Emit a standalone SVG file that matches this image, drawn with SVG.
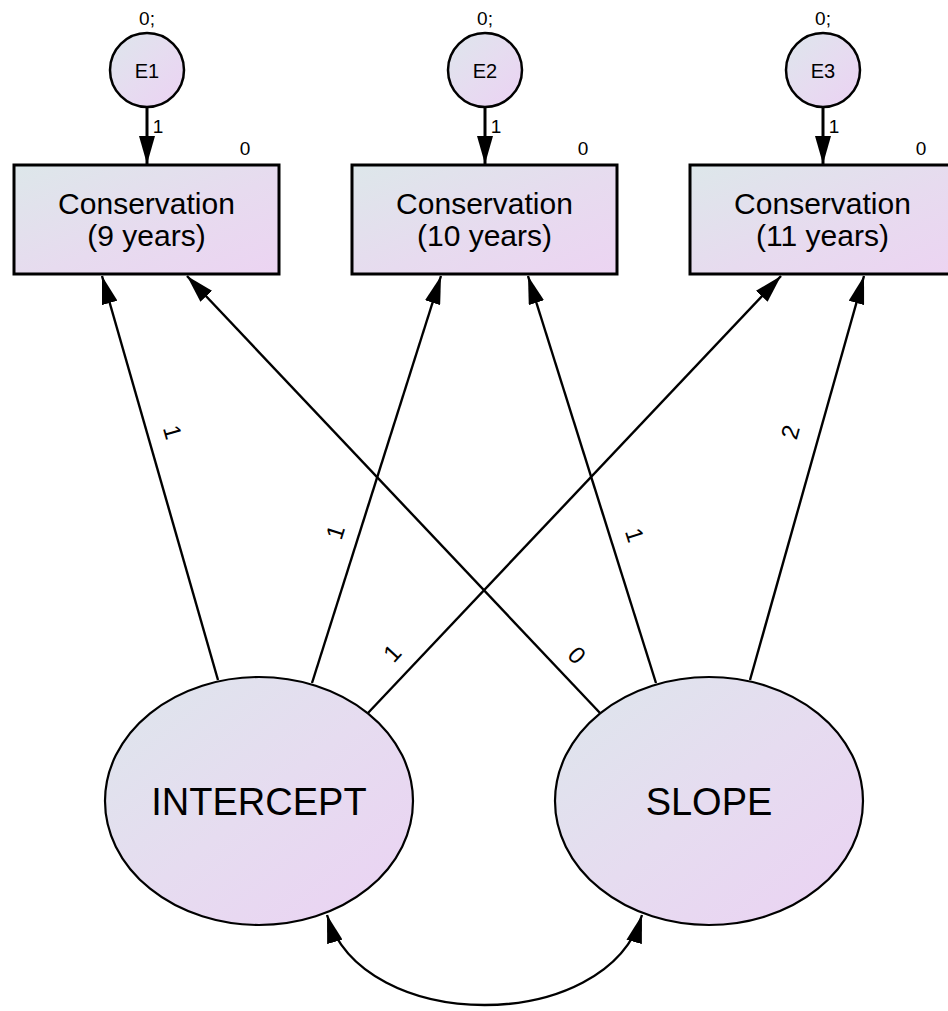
<svg xmlns="http://www.w3.org/2000/svg" width="948" height="1011" viewBox="0 0 948 1011">
<style>
text{font-family:"Liberation Sans",Arial,sans-serif;fill:#000}
.box{fill:url(#gb);stroke:#000;stroke-width:3}
.ell{fill:url(#ge);stroke:#000;stroke-width:2.2}
.err{fill:url(#ge);stroke:#000;stroke-width:2.5}
.con{fill:none;stroke:#000;stroke-width:2.4}
.econ{fill:none;stroke:#000;stroke-width:3}
.lbl{font-size:30px;text-anchor:middle}
.big{font-size:38px;text-anchor:middle}
.sm{font-size:19px;text-anchor:middle}
.pl{font-size:24px;text-anchor:middle}
</style>
<defs>
<linearGradient id="gb" x1="0" y1="0" x2="1" y2="1">
<stop offset="0" stop-color="#dde7ea"/>
<stop offset="0.55" stop-color="#e7dbef"/>
<stop offset="1" stop-color="#ecd4f2"/>
</linearGradient>
<linearGradient id="ge" x1="0" y1="0" x2="1" y2="1">
<stop offset="0" stop-color="#dde6ec"/>
<stop offset="0.5" stop-color="#e6dcf0"/>
<stop offset="1" stop-color="#ebd2f3"/>
</linearGradient>
<marker id="ah" viewBox="0 0 28 16" refX="28" refY="8" markerWidth="28" markerHeight="16" markerUnits="userSpaceOnUse" orient="auto-start-reverse">
<path d="M0,0 L28,8 L0,16 z" fill="#000"/>
</marker>
</defs>

<g id="connectors">
<line class="econ" x1="147" y1="107" x2="147" y2="164" marker-end="url(#ah)"/>
<line class="econ" x1="485" y1="107" x2="485" y2="164" marker-end="url(#ah)"/>
<line class="econ" x1="823" y1="107" x2="823" y2="164" marker-end="url(#ah)"/>
<line class="con" x1="218" y1="680" x2="102" y2="276" marker-end="url(#ah)"/>
<line class="con" x1="312" y1="683" x2="441" y2="276" marker-end="url(#ah)"/>
<line class="con" x1="368" y1="713" x2="781" y2="276" marker-end="url(#ah)"/>
<line class="con" x1="600" y1="713" x2="187" y2="276" marker-end="url(#ah)"/>
<line class="con" x1="656" y1="683" x2="528" y2="276" marker-end="url(#ah)"/>
<line class="con" x1="750" y1="680" x2="864" y2="276" marker-end="url(#ah)"/>
<path class="con" d="M327,915 C362,1035 607,1035 642,915" marker-start="url(#ah)" marker-end="url(#ah)"/>
<text class="sm" x="158" y="133">1</text>
<text class="sm" x="496" y="133">1</text>
<text class="sm" x="834" y="133">1</text>
<text class="pl" transform="translate(173,432) rotate(74)" dy="0.36em">1</text>
<text class="pl" transform="translate(335,532) rotate(-72.6)" dy="0.36em">1</text>
<text class="pl" transform="translate(392,653) rotate(-47)" dy="0.36em">1</text>
<text class="pl" transform="translate(577,655) rotate(47)" dy="0.36em">0</text>
<text class="pl" transform="translate(635,535) rotate(72.6)" dy="0.36em">1</text>
<text class="pl" transform="translate(790,432) rotate(-74.4)" dy="0.36em">2</text>
</g>

<g id="E1">
<text class="sm" x="147" y="25">0;</text>
<circle class="err" cx="147" cy="70" r="37"/>
<text class="sm" x="147" y="78" style="font-size:20px">E1</text>
</g>
<g id="E2">
<text class="sm" x="485" y="25">0;</text>
<circle class="err" cx="485" cy="70" r="37"/>
<text class="sm" x="485" y="78" style="font-size:20px">E2</text>
</g>
<g id="E3">
<text class="sm" x="823" y="25">0;</text>
<circle class="err" cx="823" cy="70" r="37"/>
<text class="sm" x="823" y="78" style="font-size:20px">E3</text>
</g>

<g id="C9">
<text class="sm" x="245" y="155">0</text>
<rect class="box" x="14" y="165" width="265" height="109"/>
<text class="lbl" x="146.5" y="214">Conservation</text>
<text class="lbl" x="146.5" y="246">(9 years)</text>
</g>
<g id="C10">
<text class="sm" x="583" y="155">0</text>
<rect class="box" x="352" y="165" width="265" height="109"/>
<text class="lbl" x="484.5" y="214">Conservation</text>
<text class="lbl" x="484.5" y="246">(10 years)</text>
</g>
<g id="C11">
<text class="sm" x="921" y="155">0</text>
<rect class="box" x="690" y="165" width="265" height="109"/>
<text class="lbl" x="822.5" y="214">Conservation</text>
<text class="lbl" x="822.5" y="246">(11 years)</text>
</g>

<g id="INTERCEPT">
<ellipse class="ell" cx="259" cy="801" rx="154" ry="124"/>
<text class="big" x="259" y="815">INTERCEPT</text>
</g>
<g id="SLOPE">
<ellipse class="ell" cx="709" cy="801" rx="154" ry="124"/>
<text class="big" x="709" y="815">SLOPE</text>
</g>
</svg>
